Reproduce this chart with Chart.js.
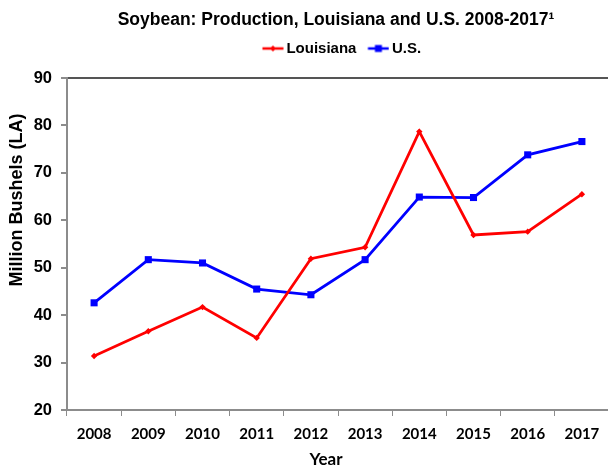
<!DOCTYPE html>
<html>
<head>
<meta charset="utf-8">
<script src="https://cdn.jsdelivr.net/npm/chart.js@4"></script>
<style>
html,body{margin:0;padding:0;overflow:hidden;background:#fff;}
#wrap{width:614px;height:470px;}
</style>
</head>
<body>
<div id="wrap"><canvas id="c" width="614" height="470"></canvas></div>
<script>
const years = ['2008','2009','2010','2011','2012','2013','2014','2015','2016','2017'];
const louisiana = [31.4, 36.6, 41.7, 35.2, 51.9, 54.3, 78.7, 56.9, 57.6, 65.5];
const us = [42.6, 51.7, 51.0, 45.5, 44.3, 51.7, 64.9, 64.8, 73.8, 76.6];
const yTicks = [20, 30, 40, 50, 60, 70, 80, 90];
const titleText = 'Soybean: Production, Louisiana and U.S. 2008-2017\u00B9';
const yTitle = 'Million Bushels (LA)';
const xTitle = 'Year';

function legendIcon(color, style){
  const c = document.createElement('canvas');
  c.width = 24; c.height = 10;
  const g = c.getContext('2d');
  g.strokeStyle = color; g.lineWidth = 2.5;
  g.beginPath(); g.moveTo(2.5,5); g.lineTo(23.5,5); g.stroke();
  g.fillStyle = color;
  if (style === 'rect') { g.fillRect(9.5,1.5,7,7); }
  else { g.beginPath(); g.moveTo(13,2); g.lineTo(16,5); g.lineTo(13,8); g.lineTo(10,5); g.closePath(); g.fill(); }
  return c;
}
const icons = [legendIcon('#FF0000','diamond'), legendIcon('#0000FF','rect')];

const legendSpace = {
  id: 'legendSpace',
  beforeInit(chart){
    const fit = chart.legend.fit;
    chart.legend.fit = function(){ fit.bind(chart.legend)(); this.height += 7; };
  },
  afterLayout(chart){
    const shiftT = 29, shiftL = 36;
    if (chart.titleBlock){ chart.titleBlock.left += shiftT; chart.titleBlock.right += shiftT; }
    if (chart.legend){ chart.legend.left += shiftL; chart.legend.right += shiftL; chart.legend.top -= 5; }
  }
};
const axisTitles = {
  id: 'axisTitles',
  afterDraw(chart){
    const ctx = chart.ctx;
    ctx.save();
    ctx.fillStyle = '#000';
    ctx.textAlign = 'center';
    ctx.textBaseline = 'middle';
    ctx.translate(17, 200);
    ctx.rotate(-Math.PI/2);
    ctx.font = 'bold 18px "Liberation Sans", Arial, sans-serif';
    ctx.fillText(yTitle, 0, 0);
    ctx.restore();
    ctx.save();
    ctx.fillStyle = '#000';
    ctx.textAlign = 'center';
    ctx.textBaseline = 'middle';
    ctx.font = 'bold 17px Lato, sans-serif';
    ctx.fillText(xTitle, 326, 460);
    ctx.restore();
  }
};

new Chart(document.getElementById('c'), {
  type: 'line',
  data: {
    labels: years,
    datasets: [
      { label: 'Louisiana', data: louisiana, borderColor: '#FF0000', backgroundColor: '#FF0000',
        borderWidth: 2.75, pointStyle: 'rectRot', pointRadius: 3.2, pointBorderWidth: 0, tension: 0 },
      { label: 'U.S.', data: us, borderColor: '#0000FF', backgroundColor: '#0000FF',
        borderWidth: 2.75, pointStyle: 'rect', pointRadius: 5, pointBorderWidth: 0, tension: 0 }
    ]
  },
  options: {
    responsive: false,
    animation: false,
    layout: { padding: { left: 0, right: 0, top: 0, bottom: 0 } },
    plugins: {
      title: { display: true, text: titleText, color: '#000',
        font: { family: '"Liberation Sans", Arial, sans-serif', size: 17.5, weight: 'bold' },
        padding: { top: 10, bottom: 1 } },
      legend: { display: true, position: 'top',
        labels: { color: '#000', usePointStyle: true, pointStyleWidth: 14, boxHeight: 10, padding: 14,
          font: { family: '"Liberation Sans", Arial, sans-serif', size: 15, weight: 'bold' },
          generateLabels(chart){
            return chart.data.datasets.map((d,i)=>({ text: d.label, pointStyle: icons[i], fillStyle: d.borderColor,
              strokeStyle: d.borderColor, lineWidth: 0, datasetIndex: i, hidden: false, fontColor: '#000' }));
          } } },
      tooltip: { enabled: false }
    },
    scales: {
      x: {
        offset: true,
        grid: { offset: true, drawOnChartArea: false, drawTicks: true, tickLength: 6, tickColor: '#8c8c8c', color: '#8c8c8c' },
        border: { color: '#8c8c8c', width: 2 },
        ticks: { color: '#000', padding: 9, maxRotation: 0, font: { family: 'Lato, sans-serif', size: 15, weight: 'bold' } },
        title: { display: false },
        afterFit(s){ s.height = 60; }
      },
      y: {
        min: 20, max: 90,
        afterBuildTicks(s){ s.ticks = yTicks.map(v=>({value:v})); },
        grid: { drawTicks: true, tickLength: 6, tickColor: '#8c8c8c',
          color: (c)=> (c.tick && c.tick.value === 90) ? '#555' : 'rgba(0,0,0,0)', lineWidth: 2 },
        border: { color: '#8c8c8c', width: 2 },
        ticks: { color: '#000', padding: 9, font: { family: '"Liberation Sans", Arial, sans-serif', size: 16.5, weight: 'bold' } },
        title: { display: false },
        afterFit(s){ s.width = 67; }
      }
    }
  },
  plugins: [legendSpace, axisTitles]
});
</script>
</body>
</html>
